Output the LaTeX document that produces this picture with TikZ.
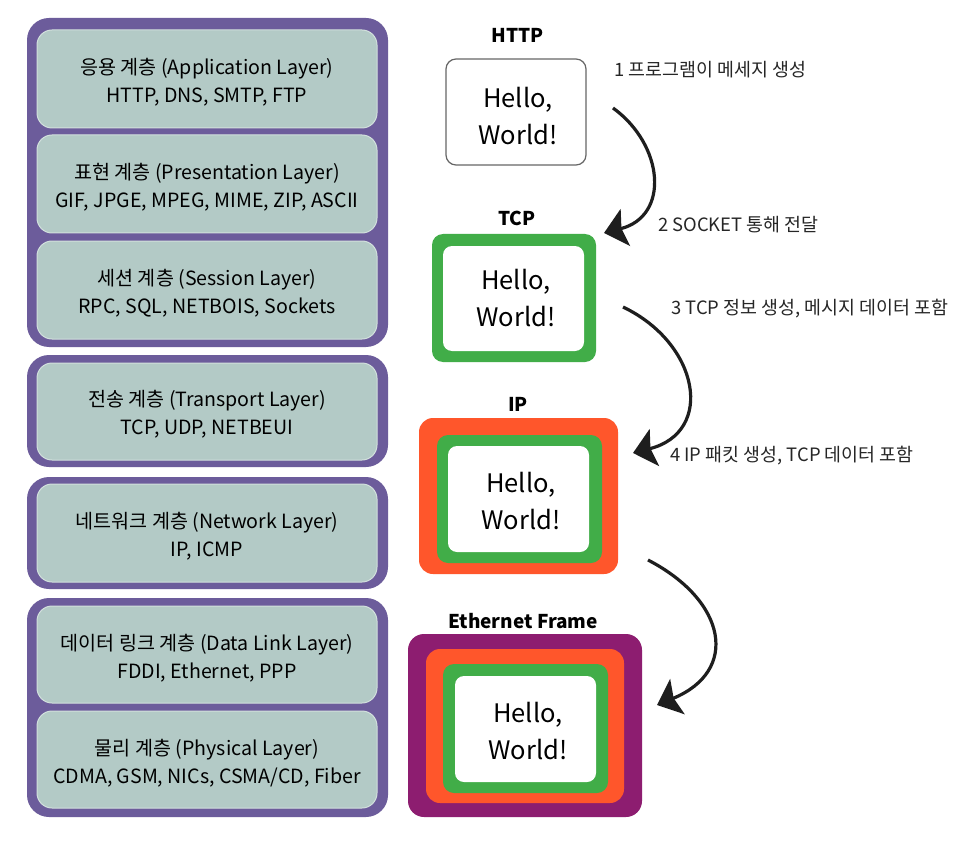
\documentclass[tikz,border=0pt]{standalone}
\usepackage{fontspec}
\setmainfont{Noto Sans CJK KR}
\usetikzlibrary{arrows.meta}
\definecolor{panelpurple}{HTML}{6C5C9B}
\definecolor{layerfill}{HTML}{B3CAC6}
\definecolor{layerline}{HTML}{D2E0DD}
\definecolor{tcpgreen}{HTML}{41AD48}
\definecolor{iporange}{HTML}{FF562B}
\definecolor{ethpurple}{HTML}{8D1D70}
\definecolor{arrowblack}{HTML}{1E1E1E}
\definecolor{labelgray}{HTML}{262626}
\tikzset{
  panel/.style={rectangle, rounded corners=22pt, fill=panelpurple, inner sep=0pt},
  layer/.style={rectangle, rounded corners=15pt, fill=layerfill, draw=layerline, line width=1pt,
    minimum width=340pt, inner sep=0pt},
  layertext/.style={align=center, font=\fontsize{19.6}{28.5}\selectfont, inner sep=0pt},
  title/.style={font=\bfseries\fontsize{19}{22}\selectfont, inner sep=0pt},
  msgtext/.style={font=\fontsize{25.5}{37}\selectfont, align=center, inner sep=0pt},
  whitebox/.style={rectangle, rounded corners=9pt, fill=white, minimum width=141pt, minimum height=106pt, inner sep=0pt},
  greenbox/.style={rectangle, rounded corners=11pt, fill=tcpgreen, minimum width=165pt, minimum height=128pt, inner sep=0pt},
  orangebox/.style={rectangle, rounded corners=14pt, fill=iporange, inner sep=0pt},
  stepnote/.style={anchor=west, font=\fontsize{18.4}{22}\selectfont, text=labelgray, inner sep=0pt},
  flow/.style={draw=arrowblack, line width=3.2pt, -{Stealth[length=22pt,width=38pt,inset=4pt]}}
}
\begin{document}
\begin{tikzpicture}[x=1pt,y=-1pt]
\useasboundingbox[fill=white] (0,0) rectangle (977,845);

% ---------- left: OSI layer panels ----------
\node[panel, minimum width=361pt, minimum height=329pt] (p1) at (207.5,182.5) {};
\node[panel, minimum width=361pt, minimum height=112pt] (p2) at (207.5,411) {};
\node[panel, minimum width=361pt, minimum height=112pt] (p3) at (207.5,533) {};
\node[panel, minimum width=361pt, minimum height=219pt] (p4) at (207.5,707.5) {};

\node[layer, minimum height=98pt] (app) at (207,79) {};
\node[layer, minimum height=98pt] (pre) at (207,184) {};
\node[layer, minimum height=98pt] (ses) at (207,290) {};
\node[layer, minimum height=97pt] (tra) at (207,411.5) {};
\node[layer, minimum height=98pt] (net) at (207,533) {};
\node[layer, minimum height=97pt] (dat) at (207,654.5) {};
\node[layer, minimum height=97pt] (phy) at (207,759.5) {};

\node[layertext] (appt) at (207,82) {응용 계층 (Application Layer)\\HTTP, DNS, SMTP, FTP};
\node[layertext] (pret) at (207,187) {표현 계층 (Presentation Layer)\\GIF, JPGE, MPEG, MIME, ZIP, ASCII};
\node[layertext] (sest) at (207,293) {세션 계층 (Session Layer)\\RPC, SQL, NETBOIS, Sockets};
\node[layertext] (trat) at (207,414) {전송 계층 (Transport Layer)\\TCP, UDP, NETBEUI};
\node[layertext] (nett) at (207,536) {네트워크 계층 (Network Layer)\\IP, ICMP};
\node[layertext] (datt) at (207,658) {데이터 링크 계층 (Data Link Layer)\\FDDI, Ethernet, PPP};
\node[layertext] (phyt) at (207,763) {물리 계층 (Physical Layer)\\CDMA, GSM, NICs, CSMA/CD, Fiber};

% ---------- right: encapsulation ----------
\node[title] (thttp) at (518,35) {HTTP};
\node[rectangle, rounded corners=10pt, draw=black!60, line width=1.2pt, fill=white,
  minimum width=140pt, minimum height=106pt, inner sep=0pt] (bhttp) at (516,112) {};
\node[msgtext] (mhttp) at (518,116.5) {Hello,\\World!};

\node[title] (ttcp) at (517,218) {TCP};
\node[greenbox, minimum width=164pt, minimum height=128pt] (gtcp) at (514,298) {};
\node[whitebox, minimum height=105pt] (wtcp) at (513.5,298.5) {};
\node[msgtext] (mtcp) at (516,298.5) {Hello,\\World!};

\node[title] (tip) at (518,404) {IP};
\node[orangebox, minimum width=199pt, minimum height=156pt] (oip) at (518.5,496) {};
\node[greenbox] (gip) at (519.5,499) {};
\node[whitebox] (wip) at (518.5,499) {};
\node[msgtext] (mip) at (521,501.5) {Hello,\\World!};

\node[title] (teth) at (523,621) {Ethernet Frame};
\node[rectangle, rounded corners=16pt, fill=ethpurple, minimum width=234pt, minimum height=183pt, inner sep=0pt] (peth) at (525,725.5) {};
\node[orangebox, minimum width=198pt, minimum height=154pt] (oeth) at (525,726) {};
\node[greenbox, minimum height=129pt] (geth) at (525.5,728.5) {};
\node[whitebox] (weth) at (525.5,729) {};
\node[msgtext] (meth) at (528,731.5) {Hello,\\World!};

% ---------- step notes ----------
\node[stepnote] (n1) at (614,70) {1 프로그램이 메세지 생성};
\node[stepnote] (n2) at (658,225) {2 SOCKET 통해 전달};
\node[stepnote] (n3) at (671,309) {3 TCP 정보 생성, 메시지 데이터 포함};
\node[stepnote] (n4) at (670,456) {4 IP 패킷 생성, TCP 데이터 포함};

% ---------- arrows ----------
\coordinate (a1s) at (613,108);
\coordinate (a1e) at (604,233);
\coordinate (a2s) at (623,307);
\coordinate (a2e) at (633,453);
\coordinate (a3s) at (648,560);
\coordinate (a3e) at (657,705);
\draw[flow] (a1s) .. controls (664,145) and (670,216) .. (a1e);
\draw[flow] (a2s) .. controls (699.5,343.5) and (715,432) .. (a2e);
\draw[flow] (a3s) .. controls (727,601) and (739.5,671) .. (a3e);
\end{tikzpicture}
\end{document}
